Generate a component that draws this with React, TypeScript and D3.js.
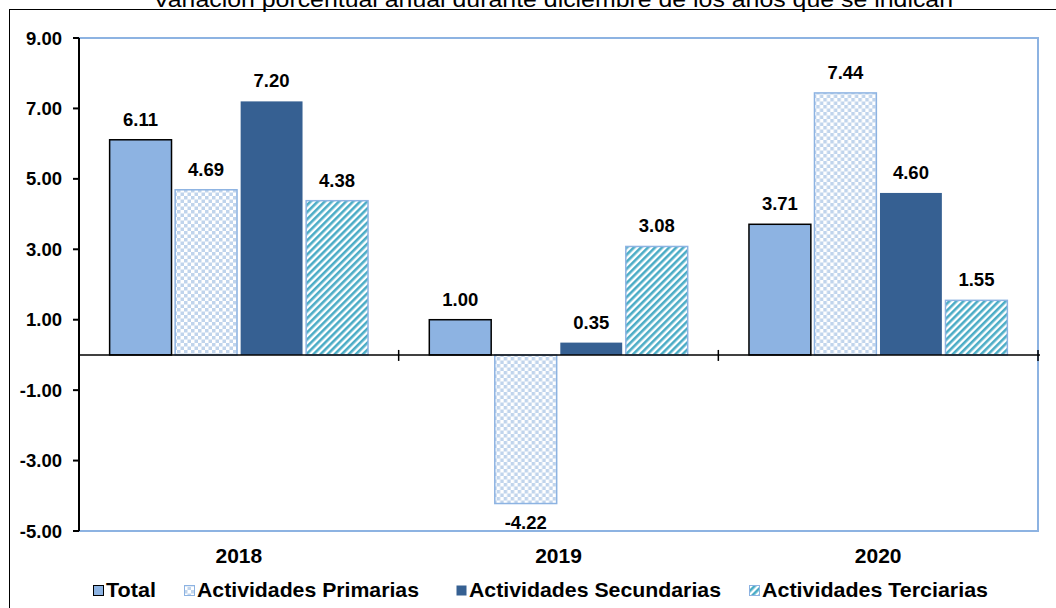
import { useMemo } from "react";
import * as d3 from "d3";

const years = ["2018", "2019", "2020"];
const seriesNames = ["Total", "Actividades Primarias", "Actividades Secundarias", "Actividades Terciarias"];
const total = [6.11, 1.0, 3.71];
const primarias = [4.69, -4.22, 7.44];
const secundarias = [7.2, 0.35, 4.6];
const terciarias = [4.38, 3.08, 1.55];
const yTicks = [9, 7, 5, 3, 1, -1, -3, -5];
const title = "Variación porcentual anual durante diciembre de los años que se indican";

const W = 1056;
const H = 608;
const FONT = "'Liberation Sans', Arial, sans-serif";

// fill / stroke for each series
const styles = [
    { fill: "#8DB3E2", stroke: "#000000" },
    { fill: "url(#checker)", stroke: "#8DB3E2" },
    { fill: "#366092", stroke: "none" },
    { fill: "url(#stripes)", stroke: "#8DB3E2" },
];

const legendX = [93, 184, 456, 749];
const legendW = [50, 222, 252, 226];

export default function App() {
    const left = 79, right = 1038, top = 38, bottom = 531;
    const series = [total, primarias, secundarias, terciarias];

    const y = useMemo(() => d3.scaleLinear().domain([-5, 9]).range([bottom, top]), []);
    const x0 = useMemo(() => d3.scaleBand<string>().domain(years).range([left, right]).paddingInner(0).paddingOuter(0), []);
    const x1 = useMemo(
        () => d3.scaleBand<number>().domain(d3.range(seriesNames.length)).range([0, x0.bandwidth()]).paddingInner(0.04).paddingOuter(0.46),
        [x0]
    );

    const zeroY = y(0);

    return (
        <div style={{ position: "absolute", left: 0, top: 0 }}>
            <svg width={W} height={H} style={{ display: "block", fontFamily: FONT }}>
                <defs>
                    <pattern id="checker" width={7} height={7} patternUnits="userSpaceOnUse">
                        <rect width={7} height={7} fill="#ffffff" />
                        <rect width={3.5} height={3.5} fill="#C0D4EC" />
                        <rect x={3.5} y={3.5} width={3.5} height={3.5} fill="#C0D4EC" />
                    </pattern>
                    <pattern id="stripes" width={5} height={5} patternUnits="userSpaceOnUse" patternTransform="rotate(45)">
                        <rect width={5} height={5} fill="#ffffff" />
                        <rect width={2.6} height={5} fill="#4BACC6" />
                    </pattern>
                </defs>

                <rect width={W} height={H} fill="#ffffff" />
                {/* outer chart frame */}
                <rect x={9.5} y={9.5} width={W + 20} height={H + 20} fill="none" stroke="#000" strokeWidth={1} />

                <text x={553} y={7} textAnchor="middle" fontSize={22} fill="#000"
                    textLength={800} lengthAdjust="spacingAndGlyphs">{title}</text>

                {/* plot area border */}
                <rect x={left} y={top} width={right - left} height={bottom - top} fill="none" stroke="#8DB3E2" strokeWidth={2} />

                {/* bars */}
                {years.map((yr, i) => (
                    <g key={yr} transform={`translate(${x0(yr)},0)`}>
                        {series.map((s, j) => {
                            const v = s[i];
                            const y0 = Math.min(y(v), zeroY);
                            const h = Math.abs(y(v) - zeroY);
                            const bx = x1(j) ?? 0;
                            const bw = x1.bandwidth();
                            return (
                                <g key={j}>
                                    <rect x={bx + 0.5} y={y0} width={bw - 1} height={h} fill={styles[j].fill}
                                        stroke={styles[j].stroke} strokeWidth={1.5} />
                                    <text x={bx + bw / 2} y={v >= 0 ? y(v) - 14 : y(v) + 25} textAnchor="middle"
                                        fontSize={18.5} fontWeight="bold" fill="#000">{v.toFixed(2)}</text>
                                </g>
                            );
                        })}
                    </g>
                ))}

                {/* y axis */}
                <line x1={left} x2={left} y1={top} y2={bottom} stroke="#000" strokeWidth={2} />
                {yTicks.map((t) => (
                    <g key={t} transform={`translate(0,${y(t)})`}>
                        <line x1={left - 6} x2={left} stroke="#000" strokeWidth={2} />
                        <text x={62} y={6.5} textAnchor="end" fontSize={18.5} fontWeight="bold" fill="#000">{t.toFixed(2)}</text>
                    </g>
                ))}

                {/* zero line with category ticks */}
                <line x1={left} x2={right + 2} y1={zeroY} y2={zeroY} stroke="#000" strokeWidth={1.5} />
                {years.map((yr) => (
                    <line key={yr} x1={(x0(yr) ?? 0) + x0.bandwidth()} x2={(x0(yr) ?? 0) + x0.bandwidth()}
                        y1={zeroY - 5} y2={zeroY + 6} stroke="#000" strokeWidth={1.5} />
                ))}

                {/* category labels */}
                {years.map((yr) => (
                    <text key={yr} x={(x0(yr) ?? 0) + x0.bandwidth() / 2} y={563} textAnchor="middle"
                        fontSize={21} fontWeight="bold" fill="#000">{yr}</text>
                ))}

                {/* legend */}
                {seriesNames.map((name, j) => (
                    <g key={name} transform={`translate(${legendX[j]},${597})`}>
                        <rect x={0.5} y={-11.5} width={10} height={10} fill={styles[j].fill}
                            stroke={j === 0 ? "#000" : styles[j].stroke === "none" ? "none" : "#8DB3E2"} strokeWidth={1} />
                        <text x={13} y={0} fontSize={20.5} fontWeight="bold" fill="#000"
                            textLength={legendW[j]} lengthAdjust="spacingAndGlyphs">{name}</text>
                    </g>
                ))}
            </svg>
        </div>
    );
}
